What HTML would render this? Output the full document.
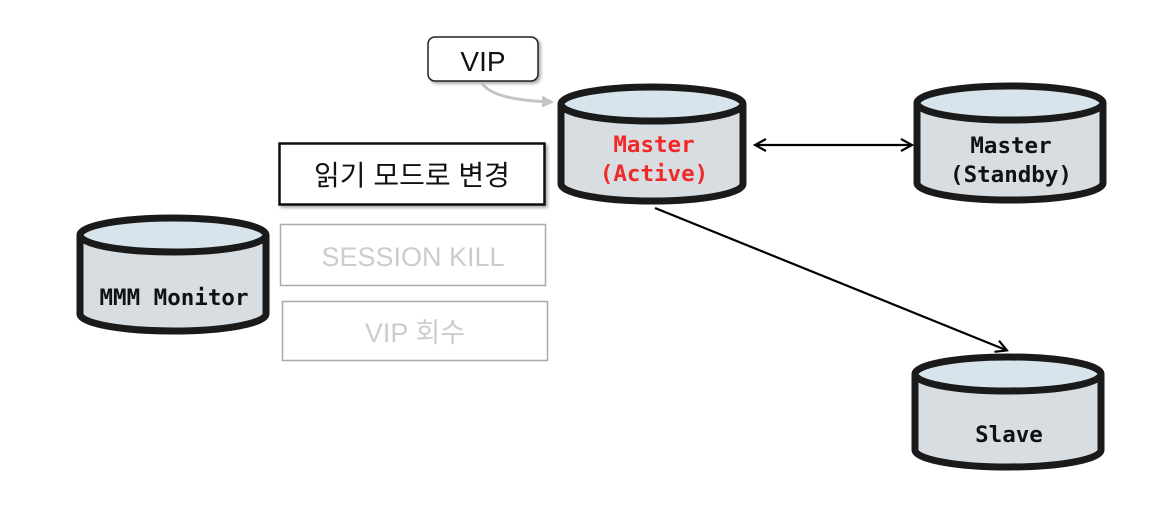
<!DOCTYPE html>
<html><head><meta charset="utf-8"><style>
html,body{margin:0;padding:0;background:#fff;}
svg{display:block;}
.mono{font-family:"DejaVu Sans Mono","Liberation Mono",monospace;font-weight:bold;font-size:22.5px;}
.kr{font-family:"Liberation Sans","Noto Sans CJK KR",sans-serif;}
</style></head><body>
<svg width="1149" height="508" viewBox="0 0 1149 508" xmlns="http://www.w3.org/2000/svg">
<defs>
<marker id="ah" markerWidth="14" markerHeight="14" refX="11" refY="7" orient="auto" markerUnits="userSpaceOnUse">
<path d="M1,1 L12,7 L1,13" fill="none" stroke="#000" stroke-width="2.2"/></marker>
<marker id="ahs" markerWidth="14" markerHeight="14" refX="11" refY="7" orient="auto-start-reverse" markerUnits="userSpaceOnUse">
<path d="M1,1 L12,7 L1,13" fill="none" stroke="#000" stroke-width="2.2"/></marker>
<marker id="ag" markerWidth="14" markerHeight="14" refX="10" refY="6" orient="auto" markerUnits="userSpaceOnUse">
<path d="M0,0 L12,6 L0,12 Z" fill="#c4c4c4"/></marker>
<filter id="sh" x="-10%" y="-10%" width="130%" height="140%"><feDropShadow dx="2" dy="2" stdDeviation="1.5" flood-color="#000" flood-opacity="0.35"/></filter>
</defs>

<rect x="428" y="37" width="110" height="44" rx="7" fill="#fff" stroke="#222" stroke-width="1.5" filter="url(#sh)"/>
<text x="483" y="71" text-anchor="middle" class="kr" font-size="28" fill="#111">VIP</text>
<path d="M482,83 Q492,100 552,102" fill="none" stroke="#c4c4c4" stroke-width="3" marker-end="url(#ag)"/>

<g stroke="#1a1a1a" stroke-width="7">
<path d="M561,104 L561,184 A91,17 0 0 0 743,184 L743,104" fill="#d8dde2"/>
<ellipse cx="652" cy="104" rx="91" ry="17" fill="#d8e4ec"/>
<path d="M917,103 L917,183 A93,17 0 0 0 1103,183 L1103,103" fill="#d8dde2"/>
<ellipse cx="1010" cy="103" rx="93" ry="17" fill="#d8e4ec"/>
<path d="M80,235 L80,314 A93,17 0 0 0 266,314 L266,235" fill="#d8dde2"/>
<ellipse cx="173" cy="235" rx="93" ry="17" fill="#d8e4ec"/>
<path d="M915,374 L915,450 A93,17 0 0 0 1101,450 L1101,374" fill="#d8dde2"/>
<ellipse cx="1008" cy="374" rx="93" ry="17" fill="#d8e4ec"/>
</g>
<text x="654" y="152" text-anchor="middle" class="mono" fill="#f02828">Master</text>
<text x="654" y="181" text-anchor="middle" class="mono" fill="#f02828">(Active)</text>
<text x="1011" y="153" text-anchor="middle" class="mono" fill="#111">Master</text>
<text x="1011" y="182" text-anchor="middle" class="mono" fill="#111">(Standby)</text>
<text x="174" y="305" text-anchor="middle" class="mono" fill="#111">MMM Monitor</text>
<text x="1009" y="442" text-anchor="middle" class="mono" fill="#111">Slave</text>

<line x1="756" y1="145" x2="911" y2="145" stroke="#000" stroke-width="2.2" marker-start="url(#ahs)" marker-end="url(#ah)"/>
<line x1="655" y1="208" x2="1006" y2="350" stroke="#000" stroke-width="2.2" marker-end="url(#ah)"/>

<rect x="279.5" y="143.5" width="265" height="61" fill="#fff" stroke="#111" stroke-width="2.5" filter="url(#sh)"/>
<text x="412" y="185" text-anchor="middle" class="kr" font-size="28" fill="#111">읽기 모드로 변경</text>
<rect x="280.5" y="224.5" width="265" height="61" fill="#fff" stroke="#aaa" stroke-width="1.5"/>
<text x="413" y="266" text-anchor="middle" class="kr" font-size="27" fill="#ccc">SESSION KILL</text>
<rect x="282.5" y="301.5" width="265" height="59" fill="#fff" stroke="#aaa" stroke-width="1.5"/>
<text x="415" y="342" text-anchor="middle" class="kr" font-size="27" fill="#ccc">VIP 회수</text>
</svg>
</body></html>
